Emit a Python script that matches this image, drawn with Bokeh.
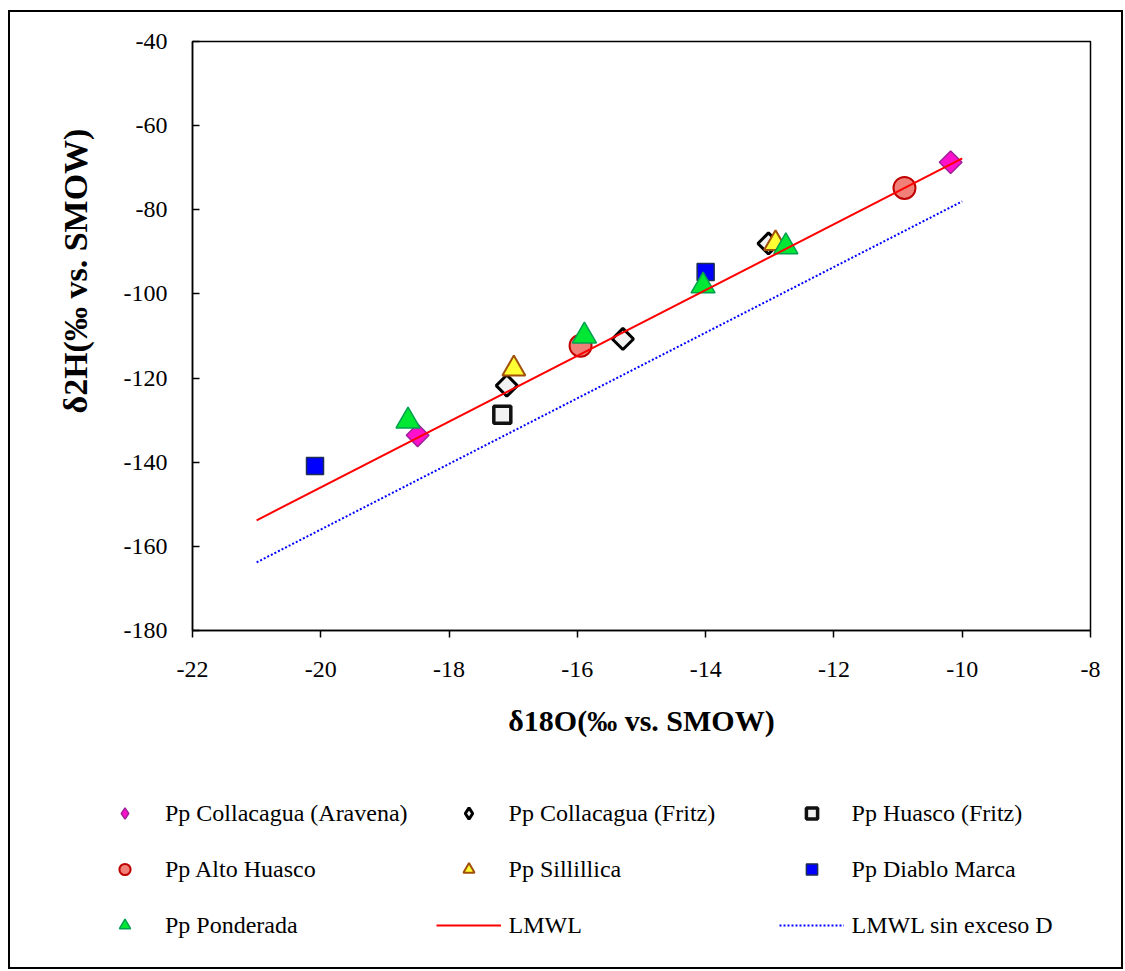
import math
from bokeh.plotting import figure
from bokeh.layouts import column, row
from bokeh.models import (Range1d, FixedTicker, Legend, LegendItem, Title,
                          CustomJSTickFormatter, Spacer, Plot)
from bokeh.embed import file_html
from bokeh.resources import INLINE

# ---- data ----
x_ticks = [-22, -20, -18, -16, -14, -12, -10, -8]
y_ticks = [-180, -160, -140, -120, -100, -80, -60, -40]

aravena_x = [-10.18, -18.49]
aravena_y = [-68.7, -133.6]

fritz_x = [-17.10, -15.29, -13.02]
fritz_y = [-121.8, -110.7, -88.0]

huasco_fritz_x = [-17.17]
huasco_fritz_y = [-128.7]

alto_huasco_x = [-15.95, -10.90]
alto_huasco_y = [-112.3, -74.8]

sillillica_x = [-16.99, -12.91]
sillillica_y = [-117.8, -88.0]

diablo_x = [-20.09, -14.00]
diablo_y = [-140.9, -94.8]

ponderada_x = [-18.64, -15.89, -14.04, -12.75]
ponderada_y = [-130.2, -110.0, -98.1, -88.8]

lmwl_x = [-21.0, -10.0]
lmwl_y = [-153.8, -67.8]

lmwl_sin_x = [-21.0, -10.0]
lmwl_sin_y = [-163.8, -78.0]

labels = ["Pp Collacagua (Aravena)", "Pp Collacagua (Fritz)", "Pp Huasco (Fritz)",
          "Pp Alto Huasco", "Pp Sillillica", "Pp Diablo Marca",
          "Pp Ponderada", "LMWL", "LMWL sin exceso D"]

FONT = "Liberation Serif"

styles = [
    dict(kind="scatter", x=aravena_x, y=aravena_y, marker="square", angle=math.pi / 4, size=16,
         fill_color="#FF10CC", line_color="#A0209A", line_width=1.5),
    dict(kind="scatter", x=fritz_x, y=fritz_y, marker="square", angle=math.pi / 4, size=15,
         fill_color="#F2F2F2", line_color="black", line_width=3),
    dict(kind="scatter", x=huasco_fritz_x, y=huasco_fritz_y, marker="square", angle=0, size=17,
         fill_color="#F2F2F2", line_color="#111111", line_width=3.5),
    dict(kind="scatter", x=alto_huasco_x, y=alto_huasco_y, marker="circle", angle=0, size=22,
         fill_color="#F08078", line_color="#C00000", line_width=2),
    dict(kind="scatter", x=sillillica_x, y=sillillica_y, marker="triangle", angle=0, size=23,
         fill_color="#FFFF33", line_color="#A0500A", line_width=2),
    dict(kind="scatter", x=diablo_x, y=diablo_y, marker="square", angle=0, size=17,
         fill_color="#0000FF", line_color="#1F2F4F", line_width=1.5),
    dict(kind="scatter", x=ponderada_x, y=ponderada_y, marker="triangle", angle=0, size=24,
         fill_color="#00E833", line_color="#00A050", line_width=1.5),
    dict(kind="line", x=lmwl_x, y=lmwl_y, line_color="#FF0000", line_width=2, line_dash="solid"),
    dict(kind="line", x=lmwl_sin_x, y=lmwl_sin_y, line_color="#0000FF", line_width=2, line_dash="2 2"),
]


def draw(fig, s, legend_key=False):
    kw = {k: v for k, v in s.items() if k not in ("kind", "x", "y")}
    if s["kind"] == "scatter":
        if legend_key and kw.get("angle"):
            # legend glyphs are drawn unrotated: use a diamond key instead
            kw["marker"] = "diamond"
            kw["angle"] = 0
        return fig.scatter(s["x"], s["y"], **kw)
    return fig.line(s["x"], s["y"], **kw)


# ---------------- main chart ----------------
p = figure(width=1115, height=750,
           x_range=Range1d(-22, -8), y_range=Range1d(-180, -40),
           output_backend="svg", toolbar_location=None,
           min_border_left=184, min_border_top=31,
           min_border_right=33, min_border_bottom=130,
           styles={"box-shadow": "inset 2px 2px 0 0 black, inset -2px 0 0 0 black"})
p.background_fill_color = "white"
p.border_fill_color = None
p.xgrid.visible = False
p.ygrid.visible = False
p.outline_line_color = "black"
p.outline_line_width = 1.5

fmt = "return tick.toFixed(0)"

xa = p.xaxis[0]
xa.ticker = FixedTicker(ticks=x_ticks)
xa.formatter = CustomJSTickFormatter(code=fmt)
xa.minor_tick_line_color = None
xa.major_tick_in = 0
xa.major_tick_out = 7
xa.axis_line_width = 1.5
xa.major_tick_line_width = 1.5
xa.major_label_text_font = FONT
xa.major_label_text_font_size = "24px"
xa.major_label_text_color = "black"
xa.major_label_standoff = 24
xa.axis_label = "δ18O(‰ vs. SMOW)"
xa.axis_label_text_font = FONT
xa.axis_label_text_font_size = "30px"
xa.axis_label_text_font_style = "bold"
xa.axis_label_text_color = "black"
xa.axis_label_standoff = 24

ya = p.yaxis[0]
ya.ticker = FixedTicker(ticks=y_ticks)
ya.formatter = CustomJSTickFormatter(code=fmt)
ya.minor_tick_line_color = None
ya.major_tick_in = 7
ya.major_tick_out = 0
ya.axis_line_width = 1.5
ya.major_tick_line_width = 1.5
ya.major_label_text_font = FONT
ya.major_label_text_font_size = "24px"
ya.major_label_text_color = "black"
ya.major_label_standoff = 25

ytitle = Title(text="δ2H(‰ vs. SMOW)", align="left", offset=217,
               text_font=FONT, text_font_size="34px", text_font_style="bold",
               text_color="black", standoff=53)
p.add_layout(ytitle, "left")

for s in styles:
    draw(p, s)

# ---------------- legend area ----------------
pl = figure(width=1115, height=209, x_range=Range1d(0, 1), y_range=Range1d(0, 1),
            output_backend="svg", toolbar_location=None,
            x_axis_location=None, y_axis_location=None,
            min_border_left=0, min_border_right=0, min_border_top=0, min_border_bottom=0,
            styles={"box-shadow": "inset 2px -2px 0 0 black, inset -2px 0 0 0 black"})
pl.xgrid.visible = False
pl.ygrid.visible = False
pl.outline_line_color = None
pl.background_fill_color = None
pl.border_fill_color = None

if "frame_align" in Plot.properties():
    pl.frame_align = False
    p.frame_align = False

# the same series drawn here only to supply legend glyphs (they fall outside this view)
leg_rends = [draw(pl, s, legend_key=True) for s in styles]

legend = Legend(items=[LegendItem(label=l, renderers=[r]) for l, r in zip(labels, leg_rends)],
                location=(84, 30), orientation="horizontal", ncols=3,
                glyph_width=65, glyph_height=28, label_height=28, label_width=242,
                label_standoff=8, spacing=28, padding=0, margin=0,
                border_line_color=None, background_fill_alpha=0,
                label_text_font=FONT, label_text_font_size="24px",
                label_text_color="black")
pl.add_layout(legend)

layout = row(Spacer(width=8), column(Spacer(height=10), p, pl, spacing=0), spacing=0)

open("out.html", "w").write(file_html(layout, INLINE))
